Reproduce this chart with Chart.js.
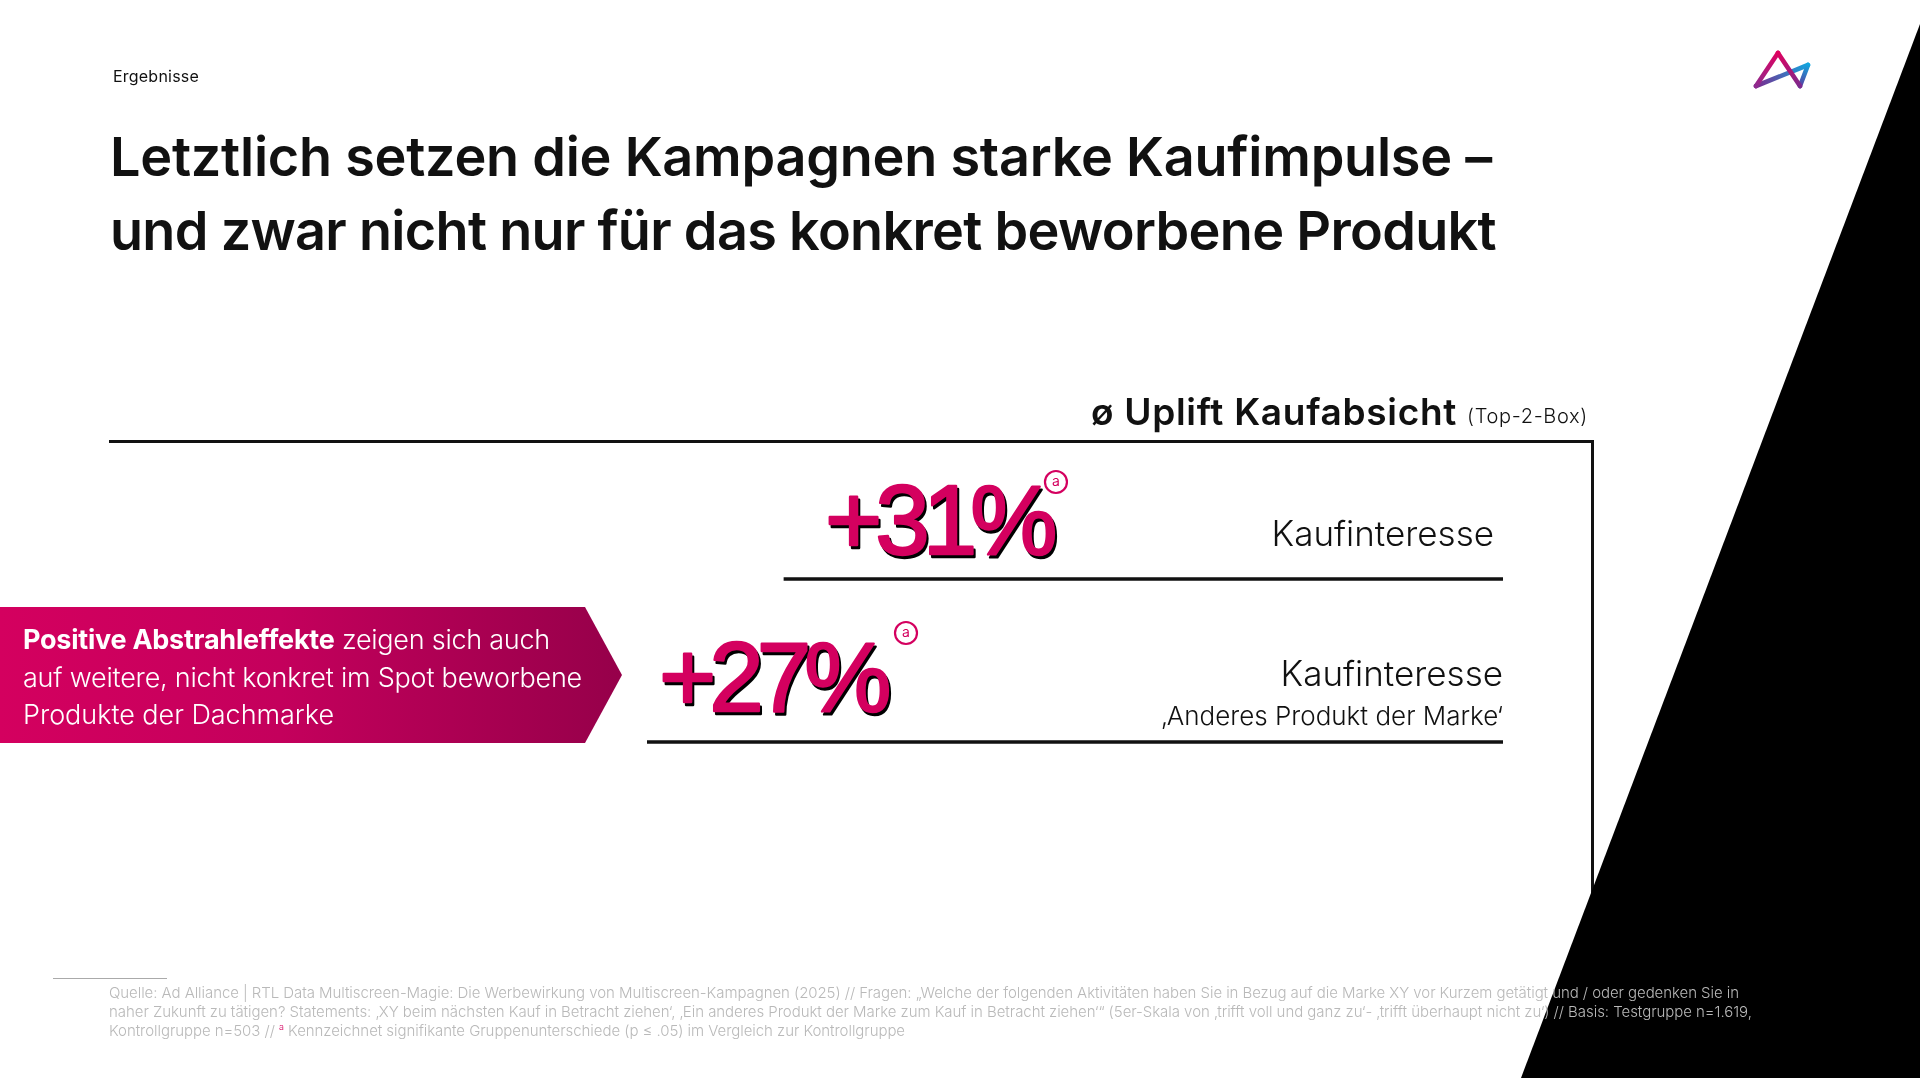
<!DOCTYPE html>
<html lang="de">
<head>
<meta charset="utf-8">
<title>Uplift Kaufabsicht</title>
<script src="https://cdn.jsdelivr.net/npm/chart.js@4"></script>
<style>
html,body{margin:0;padding:0;background:#fff;width:1920px;height:1078px;overflow:hidden}
body{position:relative;font-family:Inter,"Noto Sans",sans-serif;color:#111}
.t{position:absolute;white-space:nowrap;line-height:1;transform:translateY(-50%)}
.box{position:absolute;background:#111}
#chart{position:absolute;left:0;top:0;z-index:2}
#wedge{position:absolute;left:0;top:0;z-index:3}
#callout{position:absolute;left:0;top:607px;width:622px;height:136px;z-index:4;background:linear-gradient(90deg,#d4005f 0%,#c4005c 45%,#96004a 100%);clip-path:polygon(0 0,585px 0,622px 50%,585px 100%,0 100%)}
.over{z-index:5}
.cw{color:#fff;font-size:27px;font-weight:300}
.foot{color:#b9b9b9;font-size:15px;font-weight:300}
sup{color:#d4005f;font-size:9px;line-height:0}
</style>
</head>
<body>
<div class="t over" style="left:113px;top:76px;font-size:16px;font-weight:400" data-w="86">Ergebnisse</div>
<div class="t over" style="left:110px;top:157px;font-size:54px;font-weight:600" data-w="1382">Letztlich setzen die Kampagnen starke Kaufimpulse –</div>
<div class="t over" style="left:110px;top:231px;font-size:54px;font-weight:600" data-w="1386">und zwar nicht nur für das konkret beworbene Produkt</div>

<div class="t over" style="left:1091px;top:411px;font-size:37px;font-weight:600" data-w="366">ø Uplift Kaufabsicht</div>
<div class="t over" style="left:1467px;top:416px;font-size:20px;font-weight:300" data-w="121">(Top-2-Box)</div>

<div class="box" style="left:109px;top:440px;width:1485px;height:3px"></div>
<div class="box" style="left:1591px;top:440px;width:3px;height:460px"></div>

<canvas id="chart" width="1920" height="1078"></canvas>

<svg id="wedge" width="1920" height="1078" xmlns="http://www.w3.org/2000/svg">
  <defs>
    <linearGradient id="g1" gradientUnits="userSpaceOnUse" x1="1778" y1="52" x2="1758" y2="87"><stop offset="0" stop-color="#e0005f"/><stop offset="1" stop-color="#8e2a8e"/></linearGradient>
    <linearGradient id="g2" gradientUnits="userSpaceOnUse" x1="1778" y1="52" x2="1800" y2="87"><stop offset="0" stop-color="#e0005f"/><stop offset="1" stop-color="#7a2a8e"/></linearGradient>
    <linearGradient id="g3" gradientUnits="userSpaceOnUse" x1="1757" y1="86" x2="1809" y2="64"><stop offset="0" stop-color="#7a2a8e"/><stop offset="1" stop-color="#10a8e0"/></linearGradient>
    <linearGradient id="g4" gradientUnits="userSpaceOnUse" x1="1800" y1="87" x2="1809" y2="64"><stop offset="0" stop-color="#5b3a9e"/><stop offset="1" stop-color="#10a8e0"/></linearGradient>
  </defs>
  <polygon points="1920,24 1920,1078 1521,1078" fill="#000"/>
  <g fill="none" stroke-width="4.6" stroke-linecap="round" stroke-linejoin="round">
    <line x1="1756" y1="86" x2="1808" y2="65" stroke="url(#g3)"/>
    <line x1="1800" y1="86" x2="1808" y2="65" stroke="url(#g4)"/>
    <line x1="1778" y1="53" x2="1800" y2="86" stroke="url(#g2)"/>
    <line x1="1778" y1="53" x2="1756" y2="86" stroke="url(#g1)"/>
  </g>
</svg>

<div id="callout"></div>
<div class="t over cw" style="left:23px;top:639px" data-w="527"><b style="font-weight:700">Positive Abstrahleffekte</b> zeigen sich auch</div>
<div class="t over cw" style="left:23px;top:677px" data-w="559">auf weitere, nicht konkret im Spot beworbene</div>
<div class="t over cw" style="left:23px;top:714px" data-w="311">Produkte der Dachmarke</div>

<div class="box over" style="left:53px;top:978px;width:114px;height:1px;background:#aaa"></div>
<div class="t over foot" style="left:109px;top:992px" data-w="1630">Quelle: Ad Alliance | RTL Data Multiscreen-Magie: Die Werbewirkung von Multiscreen-Kampagnen (2025) // Fragen: „Welche der folgenden Aktivitäten haben Sie in Bezug auf die Marke XY vor Kurzem getätigt und / oder gedenken Sie in</div>
<div class="t over foot" style="left:109px;top:1011px" data-w="1643">naher Zukunft zu tätigen? Statements: ‚XY beim nächsten Kauf in Betracht ziehen‘, ‚Ein anderes Produkt der Marke zum Kauf in Betracht ziehen‘“ (5er-Skala von ‚trifft voll und ganz zu‘- ‚trifft überhaupt nicht zu‘) // Basis: Testgruppe n=1.619,</div>
<div class="t over foot" style="left:109px;top:1030px" data-w="796">Kontrollgruppe n=503 // <sup>a</sup> Kennzeichnet signifikante Gruppenunterschiede (p ≤ .05) im Vergleich zur Kontrollgruppe</div>

<script>
const categories = ['Kaufinteresse', 'Kaufinteresse'];
const subLabels = ['', '‚Anderes Produkt der Marke‘'];
const upliftValues = [31, 27];
const significance = ['a', 'a'];
const ruleSpan = [84, 100];

document.querySelectorAll('[data-w]').forEach(el => {
  const target = +el.dataset.w;
  const n = el.textContent.length;
  const w = el.getBoundingClientRect().width;
  el.style.letterSpacing = ((target - w) / n).toFixed(3) + 'px';
});

const PINK = '#d4005f';
const valueOffset = [41, 12];
const valueBaseline = [-25, -31];
const badgeOffset = [272, 259];
const badgeRise = [97, 109];
const labelRight = [9, 0];
const labelRise = [44, 67];

const rowText = {
  id: 'rowText',
  afterDatasetsDraw(chart) {
    const ctx = chart.ctx;
    const bars = chart.getDatasetMeta(0).data;
    bars.forEach((bar, i) => {
      const left = Math.min(bar.x, bar.base);
      const right = Math.max(bar.x, bar.base);
      const text = '+' + upliftValues[i] + '%';
      const x = left + valueOffset[i];
      const y = bar.y + valueBaseline[i];
      ctx.save();
      ctx.textBaseline = 'alphabetic';
      ctx.textAlign = 'left';
      ctx.font = '400 98px "Liberation Sans", Arial, sans-serif';
      ctx.letterSpacing = '-7px';
      ctx.lineJoin = 'round';
      ctx.lineWidth = 2.4;
      ctx.fillStyle = '#000';
      ctx.strokeStyle = '#000';
      ctx.fillText(text, x + 2, y + 3);
      ctx.strokeText(text, x + 2, y + 3);
      ctx.fillStyle = PINK;
      ctx.strokeStyle = PINK;
      ctx.fillText(text, x, y);
      ctx.strokeText(text, x, y);
      ctx.letterSpacing = '0px';

      const bx = left + badgeOffset[i];
      const by = bar.y - badgeRise[i];
      ctx.beginPath();
      ctx.arc(bx, by, 11, 0, Math.PI * 2);
      ctx.lineWidth = 2.2;
      ctx.strokeStyle = PINK;
      ctx.stroke();
      ctx.fillStyle = PINK;
      ctx.font = '400 14px Inter, sans-serif';
      ctx.textAlign = 'center';
      ctx.textBaseline = 'middle';
      ctx.fillText(significance[i], bx, by);

      ctx.fillStyle = '#111';
      ctx.textAlign = 'right';
      ctx.textBaseline = 'middle';
      ctx.font = '300 35px Inter, sans-serif';
      ctx.fillText(categories[i], right - labelRight[i], bar.y - labelRise[i]);
      if (subLabels[i]) {
        ctx.font = '300 26px Inter, sans-serif';
        ctx.fillText(subLabels[i], right, bar.y - 25);
      }
      ctx.restore();
    });
  }
};

new Chart(document.getElementById('chart'), {
  type: 'bar',
  data: {
    labels: categories,
    datasets: [{
      label: 'Uplift Kaufabsicht',
      data: ruleSpan,
      backgroundColor: '#111',
      barThickness: 3,
      borderWidth: 0
    }]
  },
  options: {
    indexAxis: 'y',
    responsive: false,
    animation: false,
    layout: { padding: { left: 647, right: 417, top: 497.5, bottom: 254.5 } },
    scales: {
      x: { display: false, reverse: true, min: 0, max: 100 },
      y: { display: false }
    },
    plugins: { legend: { display: false }, tooltip: { enabled: false } }
  },
  plugins: [rowText]
});
</script>
</body>
</html>
